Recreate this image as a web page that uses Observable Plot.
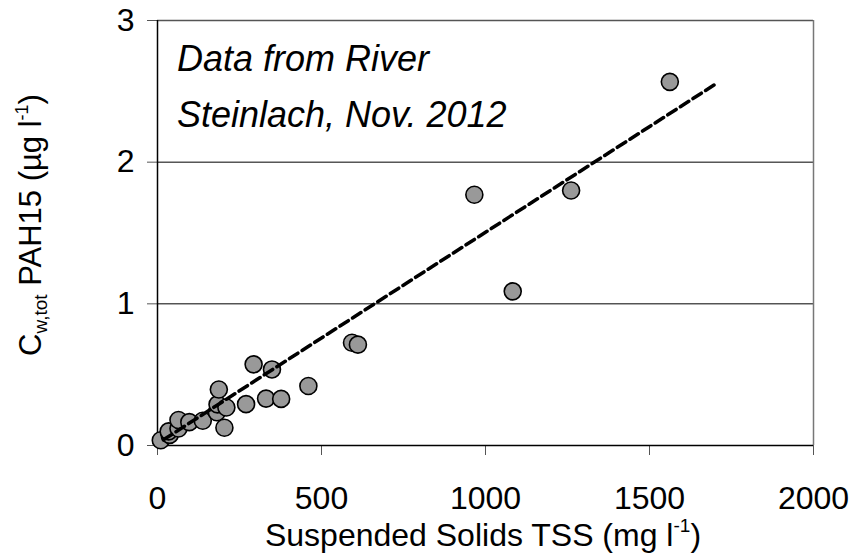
<!DOCTYPE html>
<html><head><meta charset="utf-8">
<script src="https://cdn.jsdelivr.net/npm/d3@7"></script>
<script src="https://cdn.jsdelivr.net/npm/@observablehq/plot@0.6"></script>
<style>body{margin:0;background:#fff}</style>
</head><body><div id="chart"></div>
<script>
// Suspended solids TSS (mg/l) and total PAH15 concentration (µg/l)
const tss = [10, 37, 34, 64, 64, 97, 138, 181, 183, 187, 210, 204, 270, 293, 349, 331, 377, 460, 593, 611, 966, 1083, 1261, 1562];
const pah = [0.037, 0.075, 0.10, 0.12, 0.18, 0.165, 0.175, 0.235, 0.29, 0.395, 0.268, 0.125, 0.292, 0.573, 0.537, 0.331, 0.329, 0.42, 0.725, 0.712, 1.77, 1.088, 1.80, 2.567];
// regression line end points
const fitX = [18, 1709];
const fitY = [0.04, 2.563];
const xTicks = [0, 500, 1000, 1500, 2000];
const yTicks = [0, 1, 2, 3];
const annotationLines = ["Data from River", "Steinlach, Nov. 2012"];

const points = tss.map((x, i) => ({x, y: pah[i]}));
const fit = fitX.map((x, i) => ({x, y: fitY[i]}));
const font = "'Liberation Sans', Arial, sans-serif";

const chart = Plot.plot({
  width: 852, height: 555,
  marginLeft: 157, marginRight: 39, marginTop: 20, marginBottom: 110,
  style: {fontFamily: font, fontSize: "32px", color: "#000", background: "#fff", overflow: "visible"},
  x: {domain: [0, 2000], label: null},
  y: {domain: [0, 3], label: null},
  marks: [
    Plot.ruleY([1, 2], {stroke: "#000", strokeWidth: 1}),
    Plot.ruleY([3], {stroke: "#555", strokeWidth: 1.5}),
    Plot.ruleX([2000], {stroke: "#777", strokeWidth: 1.5}),
    Plot.axisX({ticks: xTicks, tickSize: 10, tickPadding: 31, tickFormat: d => String(d), stroke: "#555", fontSize: 32, label: null}),
    Plot.axisY({ticks: yTicks, tickSize: 10, tickPadding: 13, tickFormat: d => String(d), stroke: "#555", fontSize: 32, label: null}),
    Plot.ruleX([0], {stroke: "#000", strokeWidth: 1.5}),
    Plot.ruleY([0], {stroke: "#000", strokeWidth: 1.5}),
    Plot.dot(points, {x: "x", y: "y", r: 8.5, fill: "#999", stroke: "#000", strokeWidth: 1.6}),
    Plot.line(fit, {x: "x", y: "y", stroke: "#000", strokeWidth: 3.5, strokeDasharray: "10,5"})
  ]
});

const svg = d3.select(chart);
// annotation
annotationLines.forEach((t, i) => {
  svg.append("text").attr("x", 177).attr("y", 71 + i * 56).attr("text-anchor", "start")
    .attr("font-family", font).attr("font-style", "italic").attr("font-size", 36)
    .attr("fill", "#000").text(t);
});
// x label
const xl = svg.append("text").attr("x", 483).attr("y", 546).attr("text-anchor", "middle")
  .attr("font-family", font).attr("font-size", 32).attr("fill", "#000");
xl.append("tspan").text("Suspended Solids TSS (mg l");
xl.append("tspan").attr("font-size", 19).attr("dy", -14).text("-1");
xl.append("tspan").attr("dy", 14).text(")");
// y label
const yl = svg.append("text").attr("transform", "translate(41,225) rotate(-90)").attr("text-anchor", "middle")
  .attr("font-family", font).attr("font-size", 31).attr("fill", "#000");
yl.append("tspan").text("C");
yl.append("tspan").attr("font-size", 19).attr("dy", 6).text("w,tot");
yl.append("tspan").attr("dy", -6).text(" PAH15 (µg l");
yl.append("tspan").attr("font-size", 18).attr("dy", -13).text("-1");
yl.append("tspan").attr("dy", 13).text(")");

document.getElementById("chart").appendChild(chart);
</script>
</body></html>
